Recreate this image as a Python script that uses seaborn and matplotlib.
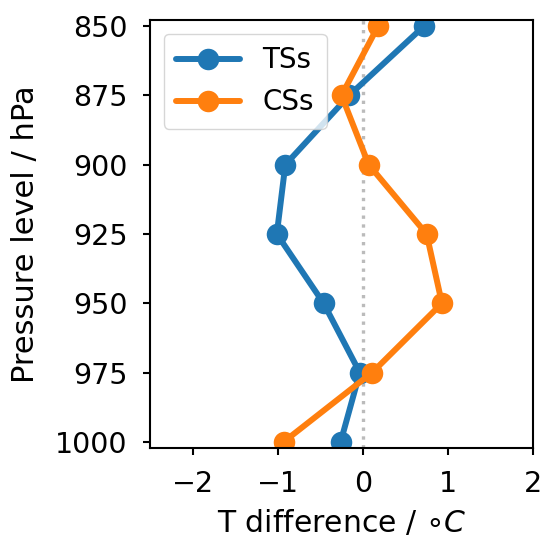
import matplotlib
matplotlib.use("Agg")
import matplotlib.pyplot as plt
import seaborn as sns
import pandas as pd

levels = [850, 875, 900, 925, 950, 975, 1000]
tss = [0.72, -0.16, -0.91, -1.01, -0.46, -0.035, -0.26]
css = [0.18, -0.25, 0.07, 0.75, 0.93, 0.11, -0.93]
series_names = ["TSs", "CSs"]
xticks = [-2, -1, 0, 1, 2]

df = pd.DataFrame({
    "level": levels * 2,
    "diff": tss + css,
    "series": [series_names[0]] * len(levels) + [series_names[1]] * len(levels),
})

sns.set_style("ticks")
plt.rcParams["font.family"] = ["DejaVu Sans"]
for k in ["text.color", "axes.labelcolor", "xtick.color", "ytick.color", "axes.edgecolor"]:
    plt.rcParams[k] = "black"

fig = plt.figure(figsize=(5.43, 5.41), dpi=100)
ax = fig.add_axes([150 / 543, 1 - 448 / 541, (533 - 150) / 543, (448 - 20) / 541])

ax.axvline(0, color="#bbbbbb", linestyle=":", linewidth=2.4, zorder=0)
sns.lineplot(data=df, x="diff", y="level", hue="series", orient="y", sort=False,
             palette=["#1f77b4", "#ff7f0e"], marker="o", markersize=15.5,
             markeredgewidth=0, linewidth=4.3, ax=ax)

ax.set_xlim(-2.5, 2.0)
ax.set_ylim(1002.2, 847.8)
ax.set_xticks(xticks)
ax.set_yticks(levels)
ax.set_xticklabels(["\u2212" + str(abs(t)) if t < 0 else str(t) for t in xticks])
ax.tick_params(labelsize=20.5, width=1.5, length=5, direction="out", pad=11)
for s in ax.spines.values():
    s.set_linewidth(1.5)
    s.set_color("black")
ax.set_xlabel(r"T difference / $\circ C$", fontsize=21.5, labelpad=7)
ax.set_ylabel("Pressure level / hPa", fontsize=22, labelpad=11)

leg = ax.legend(loc="upper left", fontsize=20, title=None, frameon=True,
                handlelength=2.3, borderpad=0.45, handletextpad=0.8)
for h in leg.get_lines():
    h.set_linewidth(4.3)
    h.set_markersize(15.5)

fig.savefig("out.png", dpi=100)
